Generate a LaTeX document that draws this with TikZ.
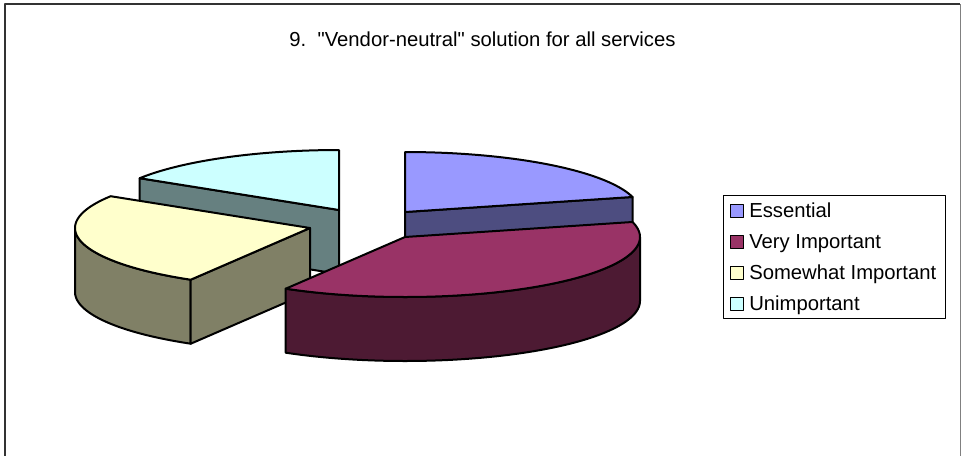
\documentclass[tikz,border=0pt]{standalone}
\usepackage{fontspec}
\setmainfont{Liberation Sans}

\definecolor{essTop}{HTML}{9999FF}
\definecolor{essSide}{HTML}{4D4D80}
\definecolor{viTop}{HTML}{993366}
\definecolor{viSide}{HTML}{4D1A33}
\definecolor{siTop}{HTML}{FFFFCC}
\definecolor{siSide}{HTML}{808066}
\definecolor{unTop}{HTML}{CCFFFF}
\definecolor{unSide}{HTML}{668080}

% pie geometry: x radius 235, y radius 60, thickness 64 (pixel units)
% top face of a slice: apex (#1,#2), from angle #3 to #4
\newcommand{\pieTop}[5]{%
  \filldraw[slice,fill=#5] (#1,#2) -- plot[domain=#3:#4,samples=80]
    ({#1+235*cos(\x)},{#2-60*sin(\x)}) -- cycle;}
% flat radial wall of a slice along angle #3
\newcommand{\pieRad}[4]{%
  \filldraw[slice,fill=#4] (#1,#2) -- ({#1+235*cos(#3)},{#2-60*sin(#3)})
    -- ({#1+235*cos(#3)},{#2-60*sin(#3)+64}) -- (#1,#2+64) -- cycle;}
% curved outer wall from angle #3 to #4
\newcommand{\pieOut}[5]{%
  \filldraw[slice,fill=#5] plot[domain=#3:#4,samples=80]
    ({#1+235*cos(\x)},{#2-60*sin(\x)})
    -- plot[domain=#4:#3,samples=80] ({#1+235*cos(\x)},{#2-60*sin(\x)+64})
    -- cycle;}

\begin{document}
\begin{tikzpicture}[x=0.75pt,y=-0.75pt,line join=round,
  slice/.style={draw=black,line width=1.5pt},
  txt/.style={inner sep=0pt,font=\fontsize{15.2}{18}\selectfont},
  swatch/.style={draw=black,line width=1.1pt}]
\useasboundingbox (0,0) rectangle (961,455);

% chart frame
\draw[line width=1.5pt,color=black!80] (5,460) -- (5,4) -- (960,4);
\draw[line width=0.75pt,color=black!50] (960,4) -- (960,460);

% title
\node[txt,anchor=base] (title) at (482.5,46.5)
  {9.\ \ \textquotedbl Vendor-neutral\textquotedbl\ solution for all services};

% Unimportant (back left)
\pieRad{339}{210}{148}{unSide}
\pieTop{339}{210}{90}{148}{unTop}
% Essential (back right)
\pieRad{405}{212}{14.5}{essSide}
\pieTop{405}{212}{14.5}{90}{essTop}
% Somewhat Important (left)
\pieOut{310}{228}{180}{239.5}{siSide}
\pieRad{310}{228}{239.5}{siSide}
\pieTop{310}{228}{148}{239.5}{siTop}
% Very Important (front)
\pieOut{405}{237}{-120.5}{0}{viSide}
\pieTop{405}{237}{-120.5}{14.5}{viTop}

% legend
\draw[line width=0.75pt] (723.5,195) rectangle (945.5,318);
\filldraw[swatch,fill=essTop] (730.5,204.5) rectangle (743.5,217.5);
\node[txt,anchor=base west] (lgEss) at (749,217.5) {Essential};
\filldraw[swatch,fill=viTop] (730.5,235.5) rectangle (743.5,248.5);
\node[txt,anchor=base west] (lgVery) at (749,248.5) {Very Important};
\filldraw[swatch,fill=siTop] (730.5,266.5) rectangle (743.5,279.5);
\node[txt,anchor=base west] (lgSome) at (749,279.5) {Somewhat Important};
\filldraw[swatch,fill=unTop] (730.5,297.5) rectangle (743.5,310.5);
\node[txt,anchor=base west] (lgUn) at (749,310.5) {Unimportant};
\end{tikzpicture}
\end{document}
